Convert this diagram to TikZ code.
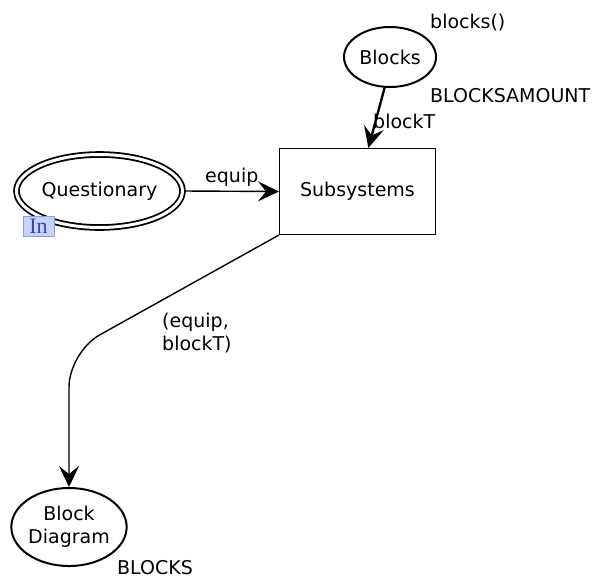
\documentclass[tikz,border=0pt]{standalone}
\usepackage{fontspec}
\setmainfont{DejaVu Sans}
\newfontfamily\inserif{Liberation Serif}
\usetikzlibrary{arrows.meta,shapes.geometric}
\definecolor{inblue}{RGB}{50,70,190}
\definecolor{infill}{RGB}{200,210,250}
\definecolor{inborder}{RGB}{140,155,235}
\begin{document}
\begin{tikzpicture}[x=1pt,y=-1pt,
  txt/.style={font=\fontsize{19}{23}\selectfont, inner sep=0pt},
  place/.style={ellipse, draw, line width=2pt, inner sep=0pt, txt},
  trans/.style={rectangle, draw, line width=1pt, inner sep=0pt, txt},
  arcline/.style={line width=1.4pt, -{Stealth[length=21pt,width=20pt,inset=8pt]}},
  lbl/.style={txt},
]
\useasboundingbox (0,0) rectangle (593,579);
% places and transition
\node[place, minimum width=92pt, minimum height=60pt] (blocks) at (390,57) {Blocks};
\node[place, line width=1.8pt, double, double distance=3pt, minimum width=166pt, minimum height=73pt] (quest) at (99.5,191) {Questionary};
\node[trans, minimum width=156pt, minimum height=86pt] (subs) at (357.5,191.5) {Subsystems};
\node[place, align=center, minimum width=113pt, minimum height=78pt] (bd) at (69,527) {Block\\Diagram};
% port tag
\node[draw=inborder, line width=1pt, fill=infill, text=inblue, inner sep=0pt, minimum width=31pt, minimum height=20pt,
      font=\inserif\fontsize{22}{22}\selectfont] (intag) at (38.5,226) {In};
% inscriptions
\node[lbl, anchor=base west] (initm) at (430,28) {blocks()};
\node[lbl, anchor=base west] (colset1) at (430,102) {BLOCKSAMOUNT};
\node[lbl, anchor=base west] (colset2) at (117,574.5) {BLOCKS};
% arcs
\coordinate (bend) at (69,352);
\draw[arcline, line width=2.3pt] (blocks.-100) -- (subs.76);
\node[lbl, anchor=base west] (blockTlbl) at (373,128) {blockT};
\draw[arcline, shorten <=2pt] (quest.east) -- (subs.west);
\node[lbl, anchor=base west] (equiplbl) at (205,182) {equip};
\draw[arcline, rounded corners=35pt] (subs.south west) -- (bend) -- (bd.north);
\node[lbl, anchor=west, align=left] (outlbl) at (162,333) {(equip,\\blockT)};
\end{tikzpicture}
\end{document}
